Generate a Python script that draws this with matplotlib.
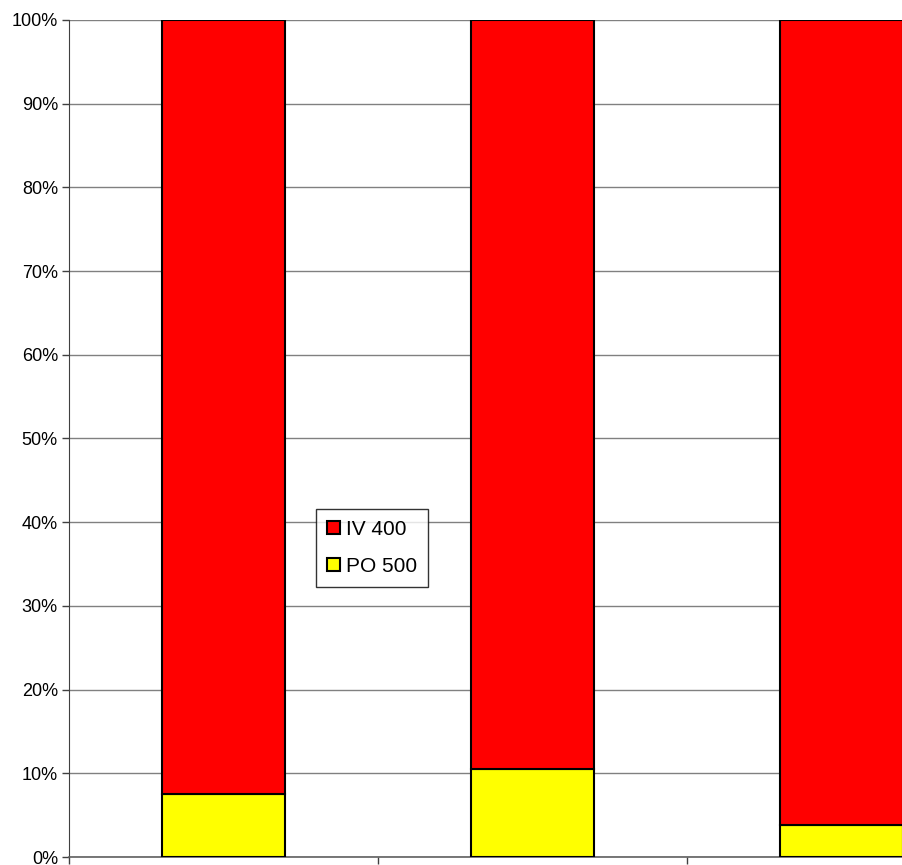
import numpy as np
import matplotlib.pyplot as plt
from matplotlib.ticker import PercentFormatter

plt.rcParams['font.family'] = ['Liberation Sans', 'DejaVu Sans']

# share of each dose per group (percent of total)
groups = ["", "", ""]
po_500 = [7.5, 10.5, 3.8]
iv_400 = [92.5, 89.5, 96.2]
y_ticks = [0, 10, 20, 30, 40, 50, 60, 70, 80, 90, 100]

W, H = 903, 865
fig = plt.figure(figsize=(W / 100, H / 100), dpi=100)
# axes runs past the right edge, as in the original (cropped) image
ax = fig.add_axes([69 / W, 8 / H, 927 / W, 837 / H])

x = np.arange(len(groups))
bw = 0.395
ax.bar(x, po_500, bw, color="#ffff00", edgecolor="black", linewidth=1.5, label="PO 500", zorder=3)
ax.bar(x, iv_400, bw, bottom=po_500, color="#ff0000", edgecolor="black", linewidth=1.5, label="IV 400", zorder=3)

ax.set_xlim(-0.5, len(groups) - 0.5)
ax.set_ylim(0, 100)
ax.set_yticks(y_ticks)
ax.yaxis.set_major_formatter(PercentFormatter(decimals=0))
ax.set_xticks(np.arange(len(groups) + 1) - 0.5)
ax.set_xticklabels([])
ax.tick_params(axis="both", direction="out", length=5, width=1, colors="#404040")
ax.tick_params(axis="y", labelsize=13, labelcolor="black", pad=3)
ax.yaxis.grid(True, color="#808080", linewidth=1)
ax.set_axisbelow(True)

for s in ["top", "right"]:
    ax.spines[s].set_visible(False)
ax.spines["left"].set_color("#404040")
ax.spines["bottom"].set_color("#606060")
ax.spines["bottom"].set_linewidth(1.2)

handles, labels = ax.get_legend_handles_labels()
leg = fig.legend(handles[::-1], labels[::-1], loc="center",
                 bbox_to_anchor=(372 / W, 1 - 548 / H),
                 fontsize=15, frameon=True, fancybox=False, edgecolor="black",
                 handlelength=0.6, handleheight=0.6, handletextpad=0.3,
                 borderpad=0.55, labelspacing=0.85, borderaxespad=0)
leg.get_frame().set_linewidth(1)

fig.savefig("out.png", dpi=100)
